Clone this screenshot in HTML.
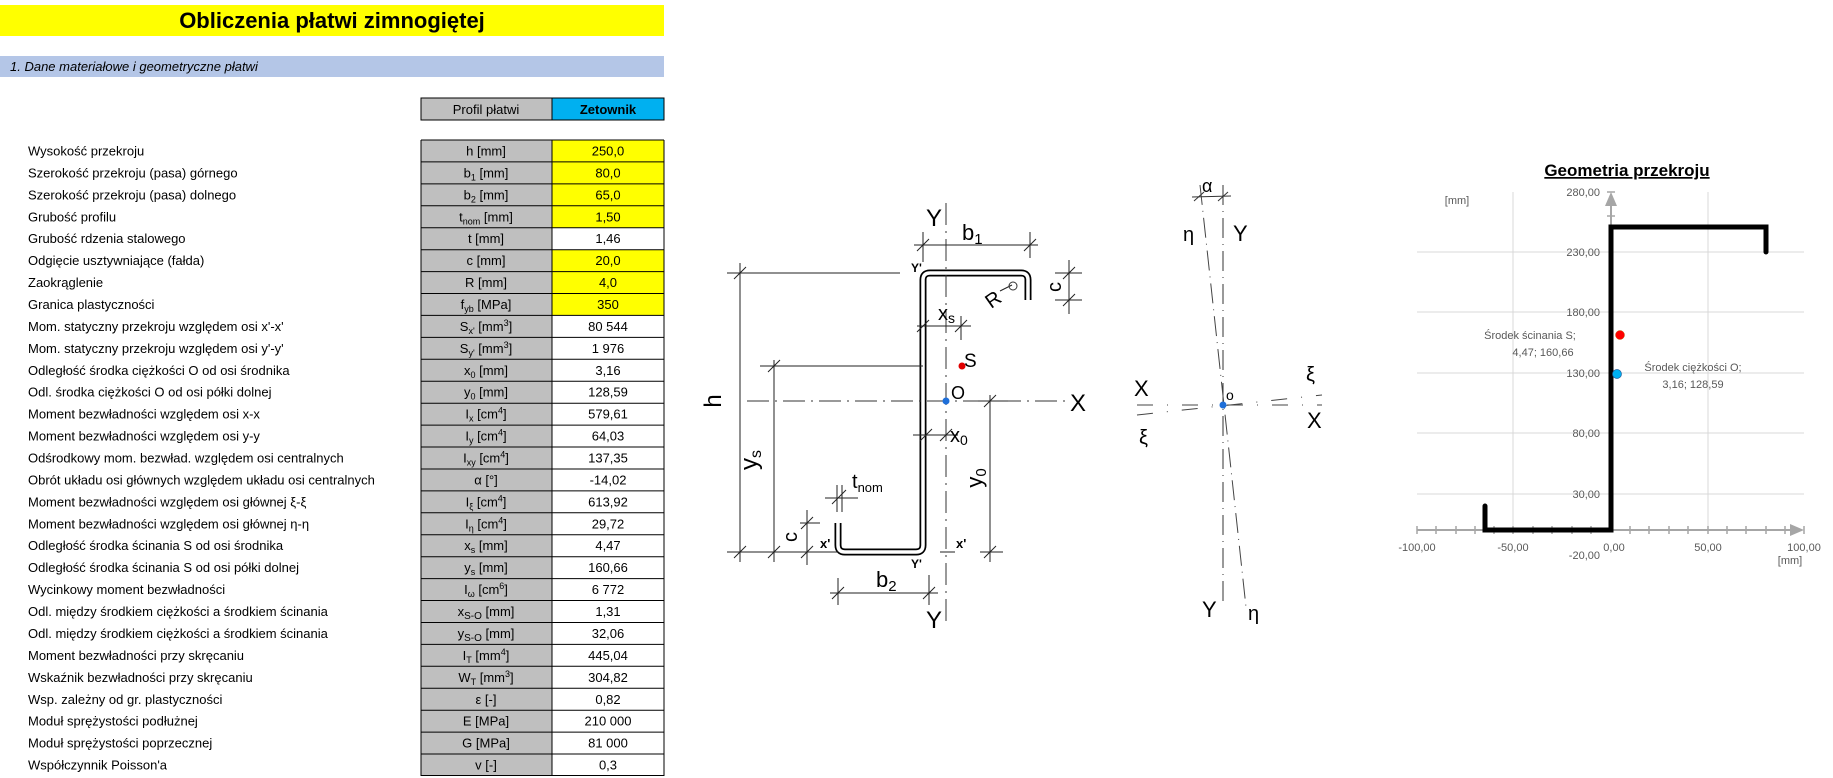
<!DOCTYPE html>
<html><head><meta charset="utf-8"><style>
html,body{margin:0;padding:0;background:#fff}
svg{display:block}
text{font-family:"Liberation Sans",sans-serif}
.l{font-size:13px;fill:#000}
.c{font-size:13px;fill:#000;text-anchor:middle}
.d{stroke:#222;stroke-width:1;fill:none}
.dd{stroke:#333;stroke-width:1;fill:none;stroke-dasharray:22 6 2 6}
.ax{font-size:11px;fill:#595959}
.g{stroke:#d9d9d9;stroke-width:1}
</style></head><body>
<svg width="1833" height="778" viewBox="0 0 1833 778" xmlns="http://www.w3.org/2000/svg">
<rect x="0" y="5" width="664" height="31" fill="#ffff00"/>
<text x="332" y="28" font-size="22" font-weight="bold" text-anchor="middle">Obliczenia płatwi zimnogiętej</text>
<rect x="0" y="56" width="664" height="21" fill="#b4c6e7"/>
<text x="10" y="71" font-size="13" font-style="italic">1.  Dane materiałowe i geometryczne płatwi</text>
<rect x="421" y="98" width="131" height="22" fill="#bfbfbf" stroke="#000"/>
<rect x="552" y="98" width="112" height="22" fill="#00b0f0" stroke="#000"/>
<text class="c" x="486" y="114">Profil płatwi</text>
<text class="c" x="608" y="114" font-weight="bold">Zetownik</text>
<rect x="421" y="140" width="131" height="636" fill="#bfbfbf"/>
<rect x="552" y="140" width="112" height="87.7" fill="#ffff00"/>
<rect x="552" y="249.7" width="112" height="65.7" fill="#ffff00"/>
<g stroke="#000" stroke-width="1">
<line x1="421" y1="140" x2="421" y2="776"/><line x1="552" y1="140" x2="552" y2="776"/><line x1="664" y1="140" x2="664" y2="776"/>
<line x1="421" y1="140" x2="664" y2="140"/><line x1="421" y1="161.9" x2="664" y2="161.9"/><line x1="421" y1="183.9" x2="664" y2="183.9"/><line x1="421" y1="205.8" x2="664" y2="205.8"/><line x1="421" y1="227.7" x2="664" y2="227.7"/><line x1="421" y1="249.7" x2="664" y2="249.7"/><line x1="421" y1="271.6" x2="664" y2="271.6"/><line x1="421" y1="293.5" x2="664" y2="293.5"/><line x1="421" y1="315.4" x2="664" y2="315.4"/><line x1="421" y1="337.4" x2="664" y2="337.4"/><line x1="421" y1="359.3" x2="664" y2="359.3"/><line x1="421" y1="381.2" x2="664" y2="381.2"/><line x1="421" y1="403.2" x2="664" y2="403.2"/><line x1="421" y1="425.1" x2="664" y2="425.1"/><line x1="421" y1="447" x2="664" y2="447"/><line x1="421" y1="469" x2="664" y2="469"/><line x1="421" y1="490.9" x2="664" y2="490.9"/><line x1="421" y1="512.8" x2="664" y2="512.8"/><line x1="421" y1="534.7" x2="664" y2="534.7"/><line x1="421" y1="556.7" x2="664" y2="556.7"/><line x1="421" y1="578.6" x2="664" y2="578.6"/><line x1="421" y1="600.5" x2="664" y2="600.5"/><line x1="421" y1="622.5" x2="664" y2="622.5"/><line x1="421" y1="644.4" x2="664" y2="644.4"/><line x1="421" y1="666.3" x2="664" y2="666.3"/><line x1="421" y1="688.3" x2="664" y2="688.3"/><line x1="421" y1="710.2" x2="664" y2="710.2"/><line x1="421" y1="732.1" x2="664" y2="732.1"/><line x1="421" y1="754" x2="664" y2="754"/><line x1="421" y1="775.5" x2="664" y2="775.5"/>
</g>
<g class="l">
<text x="28" y="155.5">Wysokość przekroju</text>
<text x="28" y="177.4">Szerokość przekroju (pasa) górnego</text>
<text x="28" y="199.4">Szerokość przekroju (pasa) dolnego</text>
<text x="28" y="221.3">Grubość profilu</text>
<text x="28" y="243.2">Grubość rdzenia stalowego</text>
<text x="28" y="265.2">Odgięcie usztywniające (fałda)</text>
<text x="28" y="287.1">Zaokrąglenie</text>
<text x="28" y="309">Granica plastyczności</text>
<text x="28" y="330.9">Mom. statyczny przekroju względem osi x'-x'</text>
<text x="28" y="352.9">Mom. statyczny przekroju względem osi y'-y'</text>
<text x="28" y="374.8">Odległość środka ciężkości O od osi środnika</text>
<text x="28" y="396.7">Odl. środka ciężkości O od osi półki dolnej</text>
<text x="28" y="418.7">Moment bezwładności względem osi x-x</text>
<text x="28" y="440.6">Moment bezwładności względem osi y-y</text>
<text x="28" y="462.5">Odśrodkowy mom. bezwład. względem osi centralnych</text>
<text x="28" y="484.5">Obrót układu osi głównych względem układu osi centralnych</text>
<text x="28" y="506.4">Moment bezwładności względem osi głównej ξ-ξ</text>
<text x="28" y="528.3">Moment bezwładności względem osi głównej η-η</text>
<text x="28" y="550.2">Odległość środka ścinania S od osi środnika</text>
<text x="28" y="572.2">Odległość środka ścinania S od osi półki dolnej</text>
<text x="28" y="594.1">Wycinkowy moment bezwładności</text>
<text x="28" y="616">Odl. między środkiem ciężkości a środkiem ścinania</text>
<text x="28" y="638">Odl. między środkiem ciężkości a środkiem ścinania</text>
<text x="28" y="659.9">Moment bezwładności przy skręcaniu</text>
<text x="28" y="681.8">Wskaźnik bezwładności przy skręcaniu</text>
<text x="28" y="703.8">Wsp. zależny od gr. plastyczności</text>
<text x="28" y="725.7">Moduł sprężystości podłużnej</text>
<text x="28" y="747.6">Moduł sprężystości poprzecznej</text>
<text x="28" y="769.5">Współczynnik Poisson'a</text>
</g>
<g class="c">
<text x="486" y="155.5">h [mm]</text>
<text x="486" y="177.4">b<tspan font-size="9" dy="3">1</tspan><tspan dy="-3"> [mm]</tspan></text>
<text x="486" y="199.4">b<tspan font-size="9" dy="3">2</tspan><tspan dy="-3"> [mm]</tspan></text>
<text x="486" y="221.3">t<tspan font-size="9" dy="3">nom</tspan><tspan dy="-3"> [mm]</tspan></text>
<text x="486" y="243.2">t [mm]</text>
<text x="486" y="265.2">c [mm]</text>
<text x="486" y="287.1">R [mm]</text>
<text x="486" y="309">f<tspan font-size="9" dy="3">yb</tspan><tspan dy="-3"> [MPa]</tspan></text>
<text x="486" y="330.9">S<tspan font-size="9" dy="3">x'</tspan><tspan dy="-3"> [mm</tspan><tspan font-size="9" dy="-5">3</tspan><tspan dy="5">]</tspan></text>
<text x="486" y="352.9">S<tspan font-size="9" dy="3">y'</tspan><tspan dy="-3"> [mm</tspan><tspan font-size="9" dy="-5">3</tspan><tspan dy="5">]</tspan></text>
<text x="486" y="374.8">x<tspan font-size="9" dy="3">0</tspan><tspan dy="-3"> [mm]</tspan></text>
<text x="486" y="396.7">y<tspan font-size="9" dy="3">0</tspan><tspan dy="-3"> [mm]</tspan></text>
<text x="486" y="418.7">I<tspan font-size="9" dy="3">x</tspan><tspan dy="-3"> [cm</tspan><tspan font-size="9" dy="-5">4</tspan><tspan dy="5">]</tspan></text>
<text x="486" y="440.6">I<tspan font-size="9" dy="3">y</tspan><tspan dy="-3"> [cm</tspan><tspan font-size="9" dy="-5">4</tspan><tspan dy="5">]</tspan></text>
<text x="486" y="462.5">I<tspan font-size="9" dy="3">xy</tspan><tspan dy="-3"> [cm</tspan><tspan font-size="9" dy="-5">4</tspan><tspan dy="5">]</tspan></text>
<text x="486" y="484.5">α [°]</text>
<text x="486" y="506.4">I<tspan font-size="9" dy="3">ξ</tspan><tspan dy="-3"> [cm</tspan><tspan font-size="9" dy="-5">4</tspan><tspan dy="5">]</tspan></text>
<text x="486" y="528.3">I<tspan font-size="9" dy="3">η</tspan><tspan dy="-3"> [cm</tspan><tspan font-size="9" dy="-5">4</tspan><tspan dy="5">]</tspan></text>
<text x="486" y="550.2">x<tspan font-size="9" dy="3">s</tspan><tspan dy="-3"> [mm]</tspan></text>
<text x="486" y="572.2">y<tspan font-size="9" dy="3">s</tspan><tspan dy="-3"> [mm]</tspan></text>
<text x="486" y="594.1">I<tspan font-size="9" dy="3">ω</tspan><tspan dy="-3"> [cm</tspan><tspan font-size="9" dy="-5">6</tspan><tspan dy="5">]</tspan></text>
<text x="486" y="616">x<tspan font-size="10" dy="3">S-O</tspan><tspan dy="-3"> [mm]</tspan></text>
<text x="486" y="638">y<tspan font-size="10" dy="3">S-O</tspan><tspan dy="-3"> [mm]</tspan></text>
<text x="486" y="659.9">I<tspan font-size="9" dy="3">T</tspan><tspan dy="-3"> [mm</tspan><tspan font-size="9" dy="-5">4</tspan><tspan dy="5">]</tspan></text>
<text x="486" y="681.8">W<tspan font-size="9" dy="3">T</tspan><tspan dy="-3"> [mm</tspan><tspan font-size="9" dy="-5">3</tspan><tspan dy="5">]</tspan></text>
<text x="486" y="703.8">ε [-]</text>
<text x="486" y="725.7">E [MPa]</text>
<text x="486" y="747.6">G [MPa]</text>
<text x="486" y="769.5">v [-]</text>
</g>
<g class="c">
<text x="608" y="155.5">250,0</text><text x="608" y="177.4">80,0</text><text x="608" y="199.4">65,0</text><text x="608" y="221.3">1,50</text><text x="608" y="243.2">1,46</text><text x="608" y="265.2">20,0</text><text x="608" y="287.1">4,0</text><text x="608" y="309">350</text><text x="608" y="330.9">80 544</text><text x="608" y="352.9">1 976</text><text x="608" y="374.8">3,16</text><text x="608" y="396.7">128,59</text><text x="608" y="418.7">579,61</text><text x="608" y="440.6">64,03</text><text x="608" y="462.5">137,35</text><text x="608" y="484.5">-14,02</text><text x="608" y="506.4">613,92</text><text x="608" y="528.3">29,72</text><text x="608" y="550.2">4,47</text><text x="608" y="572.2">160,66</text><text x="608" y="594.1">6 772</text><text x="608" y="616">1,31</text><text x="608" y="638">32,06</text><text x="608" y="659.9">445,04</text><text x="608" y="681.8">304,82</text><text x="608" y="703.8">0,82</text><text x="608" y="725.7">210 000</text><text x="608" y="747.6">81 000</text><text x="608" y="769.5">0,3</text>
</g>

<!-- Z section drawing -->
<g>
<path d="M1028,300 V280 Q1028,273 1021,273 H930 Q923,273 923,280 V545 Q923,552 916,552 H845 Q838,552 838,545 V523" fill="none" stroke="#000" stroke-width="7" stroke-linejoin="round"/>
<path d="M1028,300 V280 Q1028,273 1021,273 H930 Q923,273 923,280 V545 Q923,552 916,552 H845 Q838,552 838,545 V523" fill="none" stroke="#fff" stroke-width="3.5"/>
<line class="dd" x1="946" y1="203" x2="946" y2="625"/>
<line class="dd" x1="747" y1="401" x2="1067" y2="401"/>
<line class="d" x1="740" y1="263" x2="740" y2="562"/>
<line class="d" x1="727" y1="273" x2="900" y2="273"/>
<line class="d" x1="727" y1="552" x2="838" y2="552"/>
<line class="d" x1="734" y1="279" x2="746" y2="267"/><line class="d" x1="734" y1="558" x2="746" y2="546"/>
<line class="d" x1="774" y1="360" x2="774" y2="562"/>
<line class="d" x1="760" y1="366" x2="923" y2="366"/>
<line class="d" x1="768" y1="372" x2="780" y2="360"/><line class="d" x1="768" y1="558" x2="780" y2="546"/>
<line class="d" x1="807" y1="510" x2="807" y2="565"/>
<line class="d" x1="800" y1="523" x2="820" y2="523"/>
<line class="d" x1="801" y1="529" x2="813" y2="517"/><line class="d" x1="801" y1="558" x2="813" y2="546"/>
<line class="d" x1="990" y1="395" x2="990" y2="562"/>
<line class="d" x1="978" y1="401" x2="1008" y2="401"/>
<line class="d" x1="980" y1="552" x2="1003" y2="552"/>
<line class="d" x1="984" y1="407" x2="996" y2="395"/><line class="d" x1="984" y1="558" x2="996" y2="546"/>
<line class="d" x1="940" y1="552" x2="955" y2="552"/>
<line class="d" x1="914" y1="245" x2="1038" y2="245"/>
<line class="d" x1="923" y1="232" x2="923" y2="262"/><line class="d" x1="1030" y1="232" x2="1030" y2="258"/>
<line class="d" x1="917" y1="251" x2="929" y2="239"/><line class="d" x1="1024" y1="251" x2="1036" y2="239"/>
<line class="d" x1="1069" y1="260" x2="1069" y2="314"/>
<line class="d" x1="1055" y1="273" x2="1082" y2="273"/><line class="d" x1="1055" y1="300" x2="1082" y2="300"/>
<line class="d" x1="1063" y1="279" x2="1075" y2="267"/><line class="d" x1="1063" y1="306" x2="1075" y2="294"/>
<line class="d" x1="830" y1="593" x2="938" y2="593"/>
<line class="d" x1="838" y1="578" x2="838" y2="605"/><line class="d" x1="929" y1="575" x2="929" y2="605"/>
<line class="d" x1="832" y1="599" x2="844" y2="587"/><line class="d" x1="923" y1="599" x2="935" y2="587"/>
<line class="d" x1="917" y1="326" x2="971" y2="326"/>
<line class="d" x1="961" y1="316" x2="961" y2="340"/>
<line class="d" x1="917" y1="332" x2="929" y2="320"/><line class="d" x1="955" y1="332" x2="967" y2="320"/>
<line class="d" x1="913" y1="435" x2="958" y2="435"/>
<line class="d" x1="920" y1="441" x2="932" y2="429"/><line class="d" x1="940" y1="441" x2="952" y2="429"/>
<line class="d" x1="825" y1="498" x2="858" y2="498"/>
<line class="d" x1="837" y1="485" x2="837" y2="512"/><line class="d" x1="842" y1="485" x2="842" y2="512"/>
<line class="d" x1="832" y1="504" x2="846" y2="490"/>
<line class="d" x1="1000" y1="291" x2="1012" y2="285"/>
<circle cx="1013" cy="286" r="4" fill="none" stroke="#333"/>
<circle cx="962" cy="366" r="3.5" fill="#e00000"/>
<circle cx="946" cy="401" r="3.5" fill="#1e6fd9"/>
<text x="1070" y="411" font-size="24">X</text>
<text x="926" y="226" font-size="24">Y</text>
<text x="926" y="628" font-size="24">Y</text>
<text x="962" y="240" font-size="22">b<tspan font-size="15" dy="4">1</tspan></text>
<text x="876" y="587" font-size="22">b<tspan font-size="15" dy="4">2</tspan></text>
<text x="938" y="320" font-size="20">x<tspan font-size="14" dy="3">s</tspan></text>
<text x="964" y="367" font-size="19">S</text>
<text x="951" y="399" font-size="18">O</text>
<text x="950" y="442" font-size="20">x<tspan font-size="14" dy="3">0</tspan></text>
<text x="852" y="488" font-size="20">t<tspan font-size="13" dy="4">nom</tspan></text>
<text x="820" y="548" font-size="13" font-weight="bold">x'</text>
<text x="956" y="548" font-size="13" font-weight="bold">x'</text>
<text x="911" y="272" font-size="12" font-weight="bold">Y'</text>
<text x="911" y="568" font-size="12" font-weight="bold">Y'</text>
<text transform="translate(721,401) rotate(-90)" font-size="24" text-anchor="middle">h</text>
<text transform="translate(757,460) rotate(-90)" font-size="24" text-anchor="middle">y<tspan font-size="16" dy="4">s</tspan></text>
<text transform="translate(797,537) rotate(-90)" font-size="20" text-anchor="middle">c</text>
<text transform="translate(982,478) rotate(-90)" font-size="22" text-anchor="middle">y<tspan font-size="15" dy="4">0</tspan></text>
<text transform="translate(1061,287) rotate(-90)" font-size="20" text-anchor="middle">c</text>
<text transform="translate(997,305) rotate(-35)" font-size="20" text-anchor="middle">R</text>
</g>

<!-- axes diagram -->
<g>
<line x1="1223" y1="185" x2="1223" y2="607" stroke="#333" stroke-dasharray="20 6 1 6"/>
<line x1="1200" y1="185" x2="1246" y2="607" stroke="#444" stroke-dasharray="20 6 1 6"/>
<line x1="1137" y1="405" x2="1322" y2="405" stroke="#444" stroke-dasharray="16 14 1 14"/>
<line x1="1137" y1="415" x2="1322" y2="395" stroke="#444" stroke-dasharray="16 14 1 14"/>
<line x1="1192" y1="197" x2="1231" y2="196" stroke="#333"/>
<line x1="1194" y1="201" x2="1204" y2="192" stroke="#333"/><line x1="1218" y1="201" x2="1228" y2="192" stroke="#333"/>
<circle cx="1223" cy="405" r="3.5" fill="#1e6fd9"/>
<text x="1226" y="400" font-size="14">o</text>
<text x="1202" y="192" font-size="18">α</text>
<text x="1183" y="241" font-size="20">η</text>
<text x="1233" y="241" font-size="22">Y</text>
<text x="1134" y="396" font-size="22">X</text>
<text x="1139" y="444" font-size="20">ξ</text>
<text x="1306" y="381" font-size="20">ξ</text>
<text x="1307" y="428" font-size="22">X</text>
<text x="1202" y="617" font-size="22">Y</text>
<text x="1248" y="620" font-size="20">η</text>
</g>

<!-- chart -->
<g>
<text x="1627" y="176" font-size="17" font-weight="bold" text-anchor="middle" text-decoration="underline">Geometria przekroju</text>
<line class="g" x1="1417" y1="252" x2="1804" y2="252"/>
<line class="g" x1="1417" y1="312" x2="1804" y2="312"/>
<line class="g" x1="1417" y1="373" x2="1804" y2="373"/>
<line class="g" x1="1417" y1="433" x2="1804" y2="433"/>
<line class="g" x1="1417" y1="494" x2="1804" y2="494"/>
<line class="g" x1="1513" y1="192" x2="1513" y2="530"/>
<line class="g" x1="1708" y1="192" x2="1708" y2="530"/>
<line x1="1611" y1="530" x2="1611" y2="200" stroke="#a6a6a6" stroke-width="2"/>
<path d="M1605,206 L1611,192 L1617,206 Z" fill="#a6a6a6"/>
<line x1="1417" y1="530" x2="1796" y2="530" stroke="#a6a6a6" stroke-width="2"/>
<path d="M1790,524 L1804,530 L1790,536 Z" fill="#a6a6a6"/>
<g stroke="#a6a6a6" stroke-width="1.5">
<line x1="1417" y1="526" x2="1417" y2="534"/><line x1="1436" y1="526" x2="1436" y2="534"/><line x1="1456" y1="526" x2="1456" y2="534"/><line x1="1475" y1="526" x2="1475" y2="534"/><line x1="1494" y1="526" x2="1494" y2="534"/><line x1="1513" y1="526" x2="1513" y2="534"/><line x1="1533" y1="526" x2="1533" y2="534"/><line x1="1552" y1="526" x2="1552" y2="534"/><line x1="1572" y1="526" x2="1572" y2="534"/><line x1="1591" y1="526" x2="1591" y2="534"/><line x1="1630" y1="526" x2="1630" y2="534"/><line x1="1649" y1="526" x2="1649" y2="534"/><line x1="1669" y1="526" x2="1669" y2="534"/><line x1="1688" y1="526" x2="1688" y2="534"/><line x1="1708" y1="526" x2="1708" y2="534"/><line x1="1727" y1="526" x2="1727" y2="534"/><line x1="1746" y1="526" x2="1746" y2="534"/><line x1="1766" y1="526" x2="1766" y2="534"/><line x1="1785" y1="526" x2="1785" y2="534"/><line x1="1804" y1="526" x2="1804" y2="534"/>
<line x1="1607" y1="192" x2="1615" y2="192"/><line x1="1607" y1="216" x2="1615" y2="216"/>
</g>
<path d="M1485,506 V530 H1611 V227 H1766 V252" fill="none" stroke="#000" stroke-width="5" stroke-linecap="round" stroke-linejoin="miter"/>
<circle cx="1620" cy="335" r="4.5" fill="#ff0000" stroke="#c05000" stroke-width="0.5"/>
<circle cx="1617" cy="374" r="4.5" fill="#00b0f0" stroke="#2060a0" stroke-width="0.7"/>
<g class="ax" text-anchor="end">
<text x="1600" y="196">280,00</text><text x="1600" y="256">230,00</text><text x="1600" y="316">180,00</text><text x="1600" y="377">130,00</text><text x="1600" y="437">80,00</text><text x="1600" y="498">30,00</text><text x="1600" y="559">-20,00</text>
</g>
<g class="ax" text-anchor="middle">
<text x="1417" y="551">-100,00</text><text x="1513" y="551">-50,00</text><text x="1614" y="551">0,00</text><text x="1708" y="551">50,00</text><text x="1804" y="551">100,00</text>
<text x="1790" y="564">[mm]</text>
<text x="1457" y="204">[mm]</text>
<text x="1530" y="339">Środek ścinania S;</text>
<text x="1543" y="356">4,47; 160,66</text>
<text x="1693" y="371">Środek ciężkości O;</text>
<text x="1693" y="388">3,16; 128,59</text>
</g>
</g>
</svg>
</body></html>
